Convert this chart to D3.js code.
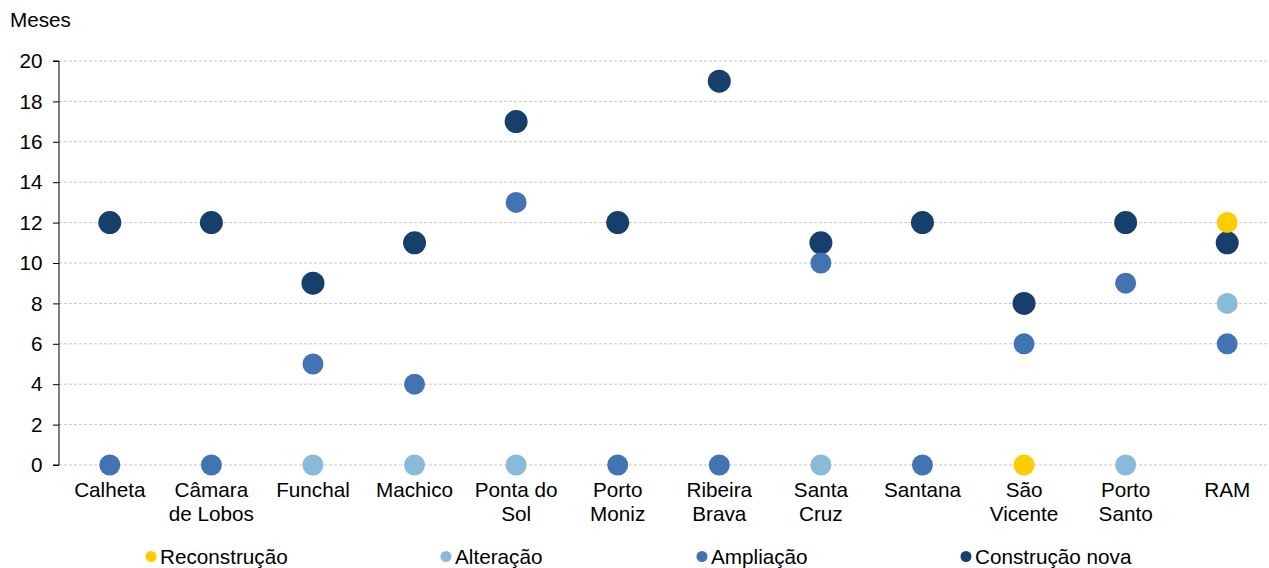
<!DOCTYPE html>
<html>
<head>
<meta charset="utf-8">
<script src="https://cdn.jsdelivr.net/npm/d3@7"></script>
<style>
  html, body { margin: 0; padding: 0; background: #fff; }
  svg { display: block; font-family: "Liberation Sans", Arial, sans-serif; }
</style>
</head>
<body>
<svg id="chart" width="1269" height="568"></svg>
<script>
// Municipalities (line breaks split with "\n")
const categories = ["Calheta", "Câmara\nde Lobos", "Funchal", "Machico", "Ponta do\nSol", "Porto\nMoniz",
  "Ribeira\nBrava", "Santa\nCruz", "Santana", "São\nVicente", "Porto\nSanto", "RAM"];

// Median duration in months per type of works (null = no value)
const reconstrucao    = [null, null, null, null, null, null, null, null, null, 0, null, 12];
const alteracao       = [null, null, 0, 0, 0, null, null, 0, null, null, 0, 8];
const ampliacao       = [0, 0, 5, 4, 13, 0, 0, 10, 0, 6, 9, 6];
const construcaoNova  = [12, 12, 9, 11, 17, 12, 19, 11, 12, 8, 12, 11];

const yTicks = [0, 2, 4, 6, 8, 10, 12, 14, 16, 18, 20];

const series = [
  { name: "Reconstrução", values: reconstrucao, color: "#FFCC00", r: 10.5 },
  { name: "Alteração", values: alteracao, color: "#8ABADA", r: 10.5 },
  { name: "Ampliação", values: ampliacao, color: "#4273B3", r: 10.5 },
  { name: "Construção nova", values: construcaoNova, color: "#173F6C", r: 11.5 }
];

const FONT = 20.7;
const svg = d3.select("#chart");
const plotLeft = 59, plotRight = 1278, plotTop = 61, plotBottom = 465;

const x = d3.scaleBand().domain(categories).range([plotLeft, plotRight]);
const y = d3.scaleLinear().domain([0, 20]).range([plotBottom, plotTop]);

// Horizontal gridlines
svg.append("g")
  .selectAll("line")
  .data(yTicks)
  .join("line")
  .attr("x1", plotLeft).attr("x2", 1269)
  .attr("y1", d => y(d)).attr("y2", d => y(d))
  .attr("stroke", "#c8c8c8")
  .attr("stroke-width", 1)
  .attr("stroke-dasharray", "3,2");

// Y axis
const yAxis = d3.axisLeft(y).tickValues(yTicks).tickSize(6).tickPadding(10.5);
const gy = svg.append("g").attr("transform", `translate(${plotLeft},0)`).call(yAxis);
gy.select(".domain").attr("stroke", "#000").attr("d", `M-6,${plotTop}H0V${plotBottom}H-6`);
gy.selectAll(".tick line").attr("stroke", "#000");
gy.selectAll(".tick text").attr("font-size", FONT).attr("fill", "#000")
  .attr("font-family", "Liberation Sans, Arial, sans-serif");

// Axis title
svg.append("text").attr("x", 10).attr("y", 27.3).attr("font-size", FONT).attr("fill", "#000").text("Meses");

// Category labels
const catLabels = svg.append("g").selectAll("text")
  .data(categories)
  .join("text")
  .attr("x", d => x(d) + x.bandwidth() / 2)
  .attr("y", 497)
  .attr("text-anchor", "middle")
  .attr("font-size", FONT)
  .attr("fill", "#000");
catLabels.each(function(d) {
  const lines = d.split("\n");
  d3.select(this).selectAll("tspan")
    .data(lines)
    .join("tspan")
    .attr("x", x(d) + x.bandwidth() / 2)
    .attr("dy", (l, i) => i === 0 ? 0 : 24)
    .text(l => l);
});

// Points: drawn from last series to first so lighter series sit on top
[...series].reverse().forEach(s => {
  svg.append("g")
    .selectAll("circle")
    .data(categories.map((c, i) => ({ c, v: s.values[i] })).filter(d => d.v !== null))
    .join("circle")
    .attr("cx", d => x(d.c) + x.bandwidth() / 2)
    .attr("cy", d => y(d.v))
    .attr("r", s.r)
    .attr("fill", s.color);
});

// Legend
const legendX = [151, 446, 702, 966];
const legend = svg.append("g").selectAll("g")
  .data(series)
  .join("g")
  .attr("transform", (d, i) => `translate(${legendX[i]},556.5)`);
legend.append("circle").attr("r", 5.5).attr("cy", 0).attr("fill", d => d.color);
legend.append("text").attr("x", 9).attr("y", 7).attr("font-size", FONT).attr("fill", "#000").text(d => d.name);
</script>
</body>
</html>
